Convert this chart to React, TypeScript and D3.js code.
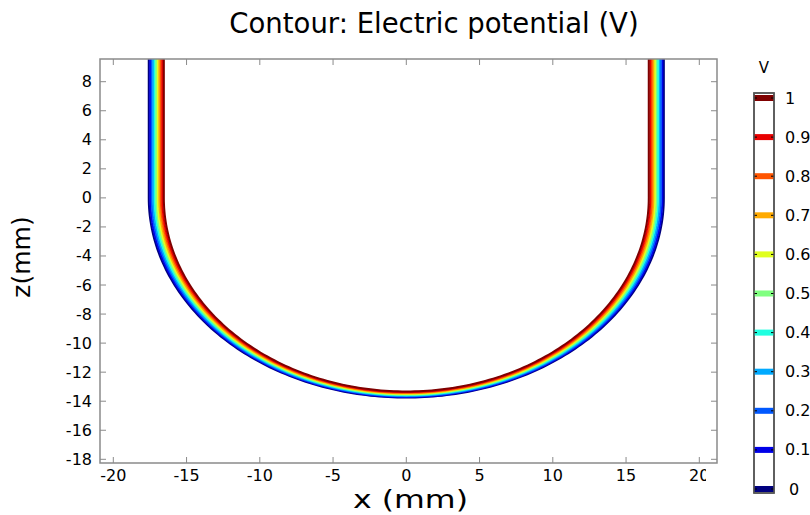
import React from "react";
import * as d3 from "d3";

// Contour levels (V) and their colours (rainbow / jet)
const levels = [0, 0.1, 0.2, 0.3, 0.4, 0.5, 0.6, 0.7, 0.8, 0.9, 1.0];
const levelColors = [
  "#00007f", "#0000e8", "#0058ff", "#00aaff", "#1fffe0",
  "#80ff80", "#e0ff1f", "#ffaa00", "#ff5500", "#e80000", "#7f0000",
];
const legendLabels = ["0", "0.1", "0.2", "0.3", "0.4", "0.5", "0.6", "0.7", "0.8", "0.9", "1"];

// Geometry of the U-shaped electrode gap (mm): outer (V=0) and inner (V=1) boundary
const halfWidthOuter = 17.58;
const halfWidthInner = 16.55;
const depthOuter = 13.75;
const depthInner = 13.33;

const xTicks = [-20, -15, -10, -5, 0, 5, 10, 15, 20];
const zTicks = [-18, -16, -14, -12, -10, -8, -6, -4, -2, 0, 2, 4, 6, 8];

const W = 810;
const H = 515;
const plotL = 100, plotR = 717, plotT = 59, plotB = 463;

const xScale = d3.scaleLinear().domain([-20, 20]).range([113.3, 699.3]);
const zScale = d3.scaleLinear().domain([8, -18]).range([81.7, 459.3]);

const zTop = zScale.invert(plotT) + 1;

function contourPoints(v: number): [number, number][] {
  const a = halfWidthOuter + v * (halfWidthInner - halfWidthOuter);
  const b = depthOuter + v * (depthInner - depthOuter);
  const pts: [number, number][] = [];
  pts.push([-a, zTop]);
  const n = 180;
  for (let i = 0; i <= n; i++) {
    const t = Math.PI + (Math.PI * i) / n;
    pts.push([a * Math.cos(t), b * Math.sin(t)]);
  }
  pts.push([a, zTop]);
  return pts;
}

const line = d3
  .line<[number, number]>()
  .x((d) => xScale(d[0]))
  .y((d) => zScale(d[1]))
  .curve(d3.curveLinear);

const FONT = "'DejaVu Sans', Verdana, sans-serif";

export default function App() {
  const axisColor = "#8a8a8a";
  const tickLen = 6;
  const legX = 754, legW = 20, legT = 93, legB = 493;
  const legScale = d3.scaleLinear().domain([0, 1]).range([489, 98]);
  return (
    <svg
      width={W}
      height={H}
      style={{ position: "absolute", left: 0, top: 0, background: "#fff" }}
      fontFamily={FONT}
    >
      <defs>
        <clipPath id="plotClip">
          <rect x={plotL} y={plotT} width={plotR - plotL} height={plotB - plotT} />
        </clipPath>
        <clipPath id="labelClip">
          <rect x={0} y={0} width={706} height={H} />
        </clipPath>
      </defs>
      <rect x={0} y={0} width={W} height={H} fill="#fff" />

      {/* title */}
      <text x={434} y={33} fontSize={27.5} textAnchor="middle" fill="#000">
        Contour: Electric potential (V)
      </text>

      {/* contours */}
      <g clipPath="url(#plotClip)">
        {levels.map((v, i) => (
          <path
            key={v}
            d={line(contourPoints(v)) || ""}
            fill="none"
            stroke={levelColors[i]}
            strokeWidth={2}
            strokeLinejoin="round"
          />
        ))}
      </g>

      {/* frame */}
      <rect
        x={plotL}
        y={plotT}
        width={plotR - plotL}
        height={plotB - plotT}
        fill="none"
        stroke={axisColor}
        strokeWidth={1.5}
      />
      {/* x ticks */}
      {xTicks.map((t) => (
        <g key={"x" + t}>
          <line x1={xScale(t)} x2={xScale(t)} y1={plotB} y2={plotB - tickLen} stroke={axisColor} />
          <line x1={xScale(t)} x2={xScale(t)} y1={plotT} y2={plotT + tickLen} stroke={axisColor} />
        </g>
      ))}
      <g clipPath="url(#labelClip)">
        {xTicks.map((t) => (
          <text key={"xl" + t} x={xScale(t)} y={481} fontSize={16} textAnchor="middle" fill="#000">
            {t}
          </text>
        ))}
      </g>
      {/* z ticks */}
      {zTicks.map((t) => (
        <g key={"z" + t}>
          <line x1={plotL} x2={plotL + tickLen} y1={zScale(t)} y2={zScale(t)} stroke={axisColor} />
          <line x1={plotR} x2={plotR - tickLen} y1={zScale(t)} y2={zScale(t)} stroke={axisColor} />
          <text x={92} y={zScale(t) + 5.5} fontSize={16} textAnchor="end" fill="#000">
            {t}
          </text>
        </g>
      ))}

      {/* axis labels */}
      <text
        x={353}
        y={508}
        fontSize={25}
        textLength={115}
        lengthAdjust="spacingAndGlyphs"
        fill="#000"
      >
        x (mm)
      </text>
      <text
        transform={`translate(30,257) rotate(-90)`}
        fontSize={25}
        textAnchor="middle"
        fill="#000"
      >
        z(mm)
      </text>

      {/* colour legend */}
      <text x={764} y={73} fontSize={15} textAnchor="middle" fill="#000">
        V
      </text>
      <rect x={legX} y={legT} width={legW} height={legB - legT} fill="#fff" stroke="#555" strokeWidth={1.5} />
      {levels.map((v, i) => (
        <g key={"leg" + v}>
          <rect x={legX} y={legScale(v) - 3} width={legW} height={6} fill={levelColors[i]} />
          <line x1={legX} x2={legX + 3} y1={legScale(v)} y2={legScale(v)} stroke="#000" />
          <line x1={legX + legW - 3} x2={legX + legW} y1={legScale(v)} y2={legScale(v)} stroke="#000" />
          <text
            x={i === 0 ? 789 : 785}
            y={legScale(v) + 5.5}
            fontSize={16}
            fill="#000"
          >
            {legendLabels[i]}
          </text>
        </g>
      ))}
      <rect x={legX} y={legT} width={legW} height={legB - legT} fill="none" stroke="#555" strokeWidth={1.5} />
    </svg>
  );
}
